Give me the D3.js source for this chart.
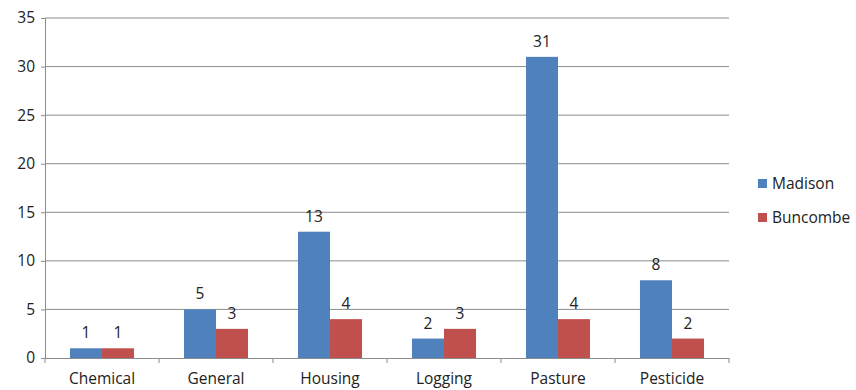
<!DOCTYPE html>
<html>
<head>
<meta charset="utf-8">
<script src="https://cdn.jsdelivr.net/npm/d3@7"></script>
<style>
  body { margin: 0; background: #fff; }
  text { font-family: "Open Sans", sans-serif; fill: #222; }
</style>
</head>
<body>
<div id="chart"></div>
<script>
// categories and series
var categories = ["Chemical", "General", "Housing", "Logging", "Pasture", "Pesticide"];
var seriesNames = ["Madison", "Buncombe"];
var madison = [1, 5, 13, 2, 31, 8];
var buncombe = [1, 3, 4, 3, 4, 2];
var yTicks = [0, 5, 10, 15, 20, 25, 30, 35];
var colors = ["#4f81bd", "#c0504d"];

var width = 856, height = 390;
var plotLeft = 45, plotRight = 729, plotTop = 18, plotBottom = 358;
var fontSize = '15.5px';

var svg = d3.select('#chart').append('svg')
  .attr('width', width)
  .attr('height', height);

var x = d3.scaleBand().domain(categories).range([plotLeft, plotRight]);
var inner = d3.scaleBand().domain(seriesNames)
  .range([0, x.bandwidth()]).paddingOuter(0.78).paddingInner(0);
var y = d3.scaleLinear().domain([0, 35]).range([plotBottom, plotTop]);

// gridlines
svg.append('g').selectAll('line')
  .data(yTicks.slice(1))
  .enter().append('line')
  .attr('x1', plotLeft).attr('x2', plotRight)
  .attr('y1', function(d){ return y(d); })
  .attr('y2', function(d){ return y(d); })
  .style('stroke', '#8c8c8c')
  .style('stroke-width', 1);

// y axis
var yAxis = svg.append('g')
  .attr('transform', 'translate(' + plotLeft + ',0)')
  .call(d3.axisLeft(y).tickValues(yTicks).tickSize(4).tickPadding(6));
yAxis.select('.domain').style('stroke', '#8c8c8c');
yAxis.selectAll('.tick line').style('stroke', '#8c8c8c');
yAxis.selectAll('text').style('font-size', fontSize).style('font-family', '"Open Sans", sans-serif').attr('fill', '#222');

// x axis
var xAxis = svg.append('g')
  .attr('transform', 'translate(0,' + plotBottom + ')')
  .call(d3.axisBottom(x).tickSize(0).tickPadding(15));
xAxis.select('.domain').style('stroke', '#8c8c8c');
xAxis.selectAll('text').style('font-size', fontSize).style('font-family', '"Open Sans", sans-serif').attr('fill', '#222');
// tick marks at band edges
svg.append('g').selectAll('line')
  .data(categories.concat(['end']))
  .enter().append('line')
  .attr('x1', function(d, i){ return plotLeft + i * x.step(); })
  .attr('x2', function(d, i){ return plotLeft + i * x.step(); })
  .attr('y1', plotBottom).attr('y2', plotBottom + 5)
  .style('stroke', '#8c8c8c');

var rows = categories.map(function(c, i){
  return { cat: c, vals: [madison[i], buncombe[i]] };
});

var groups = svg.append('g').selectAll('g')
  .data(rows)
  .enter().append('g')
  .attr('transform', function(d){ return 'translate(' + x(d.cat) + ',0)'; });

var bars = groups.selectAll('g')
  .data(function(d){ return d.vals.map(function(v, j){ return { name: seriesNames[j], v: v, j: j }; }); })
  .enter().append('g');

bars.append('rect')
  .attr('x', function(d){ return inner(d.name); })
  .attr('width', inner.bandwidth())
  .attr('y', function(d){ return y(d.v); })
  .attr('height', function(d){ return plotBottom - y(d.v); })
  .style('fill', function(d){ return colors[d.j]; });

bars.append('text')
  .attr('x', function(d){ return inner(d.name) + inner.bandwidth() / 2; })
  .attr('y', function(d){ return y(d.v) - 10; })
  .attr('text-anchor', 'middle')
  .style('font-size', fontSize)
  .text(function(d){ return d.v; });

// legend
var legend = svg.append('g').selectAll('g')
  .data(seriesNames)
  .enter().append('g')
  .attr('transform', function(d, i){ return 'translate(758,' + (179 + i * 34) + ')'; });

legend.append('rect')
  .attr('width', 9).attr('height', 9)
  .style('fill', function(d, i){ return colors[i]; });

legend.append('text')
  .attr('x', 14).attr('y', 10)
  .style('font-size', fontSize)
  .text(function(d){ return d; });
</script>
</body>
</html>
